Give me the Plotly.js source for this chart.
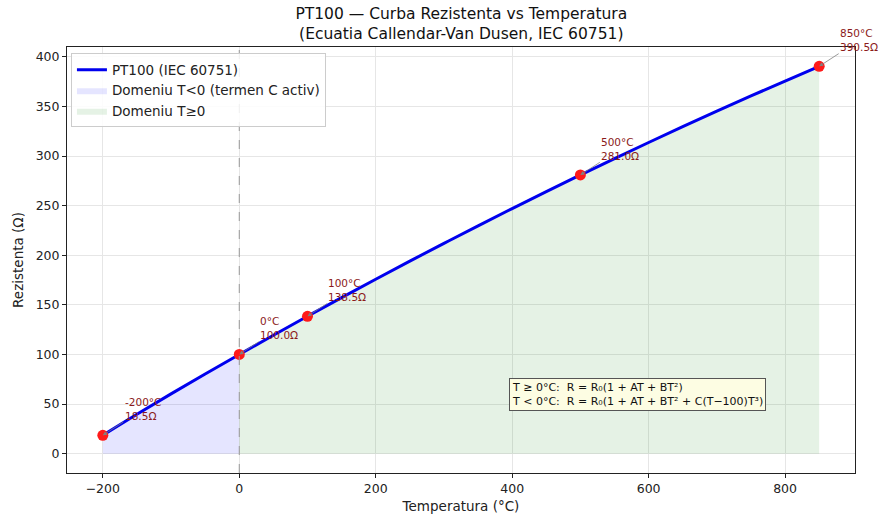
<!DOCTYPE html>
<html>
<head>
<meta charset="utf-8">
<script src="https://cdn.plot.ly/plotly-3.0.1.min.js"></script>
<style>html,body{margin:0;padding:0;background:#fff;}#chart{width:882px;height:523px;}</style>
</head>
<body>
<div id="chart"></div>
<script>
// Temperature (°C) and resistance (Ω)
const tempNeg = [-200, -150, -100, -50, 0];
const resNeg = [18.52, 39.72, 60.26, 80.31, 100.0];
const tempPos = [0, 50, 100, 150, 200, 250, 300, 350, 400, 450, 500, 550, 600, 650, 700, 750, 800, 850];
const resPos = [100.0, 119.40, 138.51, 157.33, 175.86, 194.10, 212.05, 229.72, 247.09, 264.18, 280.98, 297.49, 313.71, 329.64, 345.28, 360.64, 375.70, 390.48];
const markT = [-200, 0, 100, 500, 850];
const markR = [18.5, 100.0, 138.5, 281.0, 390.5];
const xTicks = [-200, 0, 200, 400, 600, 800];
const xTickText = ['\u2212200', '0', '200', '400', '600', '800'];
const yTicks = [0, 50, 100, 150, 200, 250, 300, 350, 400];

const allT = tempNeg.concat(tempPos.slice(1));
const allR = resNeg.concat(resPos.slice(1));

const traces = [
  {x: tempNeg, y: resNeg, type: 'scatter', mode: 'lines', fill: 'tozeroy',
   fillcolor: 'rgba(0,0,255,0.1)', line: {width: 0, color: 'rgba(0,0,255,0)'},
   name: 'Domeniu T<0 (termen C activ)', hoverinfo: 'skip', legendrank: 2},
  {x: tempPos, y: resPos, type: 'scatter', mode: 'lines', fill: 'tozeroy',
   fillcolor: 'rgba(0,128,0,0.1)', line: {width: 0, color: 'rgba(0,128,0,0)'},
   name: 'Domeniu T\u22650', hoverinfo: 'skip', legendrank: 3},
  {x: allT, y: allR, type: 'scatter', mode: 'lines', line: {color: '#0000ee', width: 3, shape: 'spline'},
   name: 'PT100 (IEC 60751)', legendrank: 1},
  {x: markT, y: markR, type: 'scatter', mode: 'markers', marker: {color: '#ff1a1a', size: 11},
   showlegend: false}
];

const annotations = markT.map((t, i) => ({
  x: t, y: markR[i], xref: 'x', yref: 'y',
  text: t + '°C<br>' + markR[i].toFixed(1) + 'Ω',
  showarrow: true, arrowhead: 2, arrowsize: 1, arrowwidth: 0.8, arrowcolor: '#808080',
  ax: 40, ay: -26, align: 'left', xanchor: 'center', yanchor: 'middle',
  font: {family: 'DejaVu Sans', size: 10.5, color: '#8b1a1a'}
}));
annotations.push({
  x: 396, y: 60, xref: 'x', yref: 'y', xanchor: 'left', yanchor: 'middle',
  showarrow: false, align: 'left',
  text: 'T \u2265 0°C:  R = R\u2080(1 + AT + BT\u00b2)<br>T < 0°C:  R = R\u2080(1 + AT + BT\u00b2 + C(T\u2212100)T\u00b3)',
  font: {family: 'DejaVu Sans', size: 11, color: '#111'},
  bgcolor: '#fdfde3', bordercolor: '#555', borderwidth: 1, borderpad: 2
});

const layout = {
  width: 882, height: 523,
  margin: {l: 67, r: 27, t: 47, b: 50},
  paper_bgcolor: '#fff', plot_bgcolor: '#fff',
  font: {family: 'DejaVu Sans', size: 12.5, color: '#222'},
  title: {text: 'PT100 \u2014 Curba Rezistenta vs Temperatura<br>(Ecuatia Callendar-Van Dusen, IEC 60751)',
          x: 0.523, xanchor: 'center', xref: 'container', yref: 'container', y: 0.964, yanchor: 'middle',
          font: {family: 'DejaVu Sans', size: 15.5, color: '#111'}},
  xaxis: {range: [-252.5, 902.5], tickvals: xTicks, ticktext: xTickText, showgrid: true, gridcolor: '#e6e6e6',
          zeroline: false, showline: true, linecolor: '#222', linewidth: 1, mirror: true,
          ticks: 'outside', ticklen: 4, tickcolor: '#222',
          title: {text: 'Temperatura (°C)', standoff: 6, font: {size: 13.5}}},
  yaxis: {range: [-19.5, 410], tickvals: yTicks, showgrid: true, gridcolor: '#e6e6e6',
          zeroline: false, showline: true, linecolor: '#222', linewidth: 1, mirror: true,
          ticks: 'outside', ticklen: 4, tickcolor: '#222',
          title: {text: 'Rezistenta (\u03a9)', standoff: 8, font: {size: 13.5}}},
  shapes: [{type: 'line', xref: 'x', yref: 'paper', x0: 0, x1: 0, y0: 0, y1: 1,
            line: {color: '#999', width: 1, dash: 'dash'}, layer: 'above'}],
  legend: {x: 0.005, y: 0.985, xanchor: 'left', yanchor: 'top', bgcolor: 'rgba(255,255,255,0.85)',
           bordercolor: '#ccc', borderwidth: 1, font: {size: 13.5}, traceorder: 'normal'},
  annotations: annotations,
  showlegend: true
};

Plotly.newPlot('chart', traces, layout, {displayModeBar: false, staticPlot: true});
</script>
</body>
</html>
